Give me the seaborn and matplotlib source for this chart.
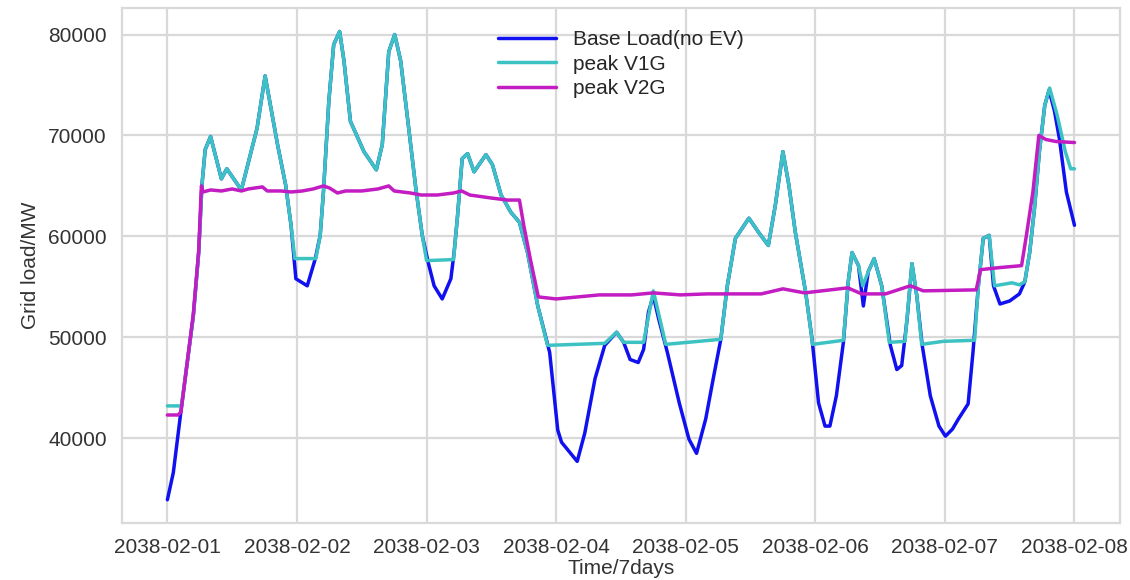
import numpy as np
import pandas as pd
import seaborn as sns
import matplotlib.pyplot as plt
import matplotlib.dates as mdates

# hours from 2038-02-01 00:00 and grid load (MW)
base_hours = [0, 1.1, 2.4, 4.8, 5.8, 6.4, 7.0, 8.0, 10.0, 11.0, 13.7, 16.6, 18.1, 20.4, 21.9, 22.9,
              23.8, 25.9, 27.4, 28.3, 28.9, 29.9, 30.8, 31.9, 32.7, 33.9, 36.4, 38.7, 39.8, 41.0,
              42.1, 43.2, 44.7, 46.0, 47.2, 48.4, 49.4, 50.9, 52.5, 53.1, 53.7, 54.6, 55.6, 56.8,
              57.7, 59.0, 60.2, 61.8, 63.6, 65.2, 66.7, 68.6, 70.8, 72.3, 73.0, 75.9, 77.3, 79.2,
              81.0, 83.2, 84.5, 85.7, 87.2, 88.2, 89.1, 90.0, 91.0, 92.6, 94.8, 96.6, 98.0, 99.7,
              101.2, 102.5, 103.7, 105.2, 107.7, 109.5, 111.3, 112.6, 114.0, 115.1, 116.3, 118.2,
              119.4, 120.6, 121.8, 122.7, 123.9, 125.2, 126.1, 126.8, 128.0, 128.9, 129.8, 130.9,
              132.3, 133.9, 135.1, 136.0, 137.0, 137.9, 138.8, 139.8, 141.3, 142.9, 144.1, 145.4,
              146.5, 148.3, 149.2, 150.2, 151.1, 152.2, 153.0, 154.2, 156.0, 157.8, 158.8, 159.7,
              160.6, 161.5, 162.5, 163.3, 164.3, 165.2, 166.5, 168.0]
base_load = [33900, 36600, 42200, 52100, 58400, 65100, 68600, 69900, 65700, 66700, 64600, 70700,
             75900, 69100, 65100, 61100, 55800, 55100, 57800, 60100, 64400, 73400, 79000, 80300,
             77400, 71400, 68400, 66600, 69100, 78300, 80000, 77400, 70700, 64800, 60100, 57200,
             55100, 53800, 55800, 58400, 61800, 67700, 68200, 66400, 67100, 68100, 67100, 64100,
             62400, 61400, 58400, 53100, 48500, 40800, 39600, 37700, 40500, 45900, 49200, 50500,
             49500, 47800, 47500, 48800, 52500, 54100, 51800, 48500, 43500, 39900, 38500, 41900,
             46200, 49800, 55100, 59800, 61800, 60400, 59100, 63100, 68400, 65100, 60400, 54500,
             49800, 43500, 41200, 41200, 44200, 49500, 55500, 58400, 57100, 53100, 56500, 57800,
             55100, 49200, 46800, 47200, 51800, 57300, 54100, 49200, 44200, 41200, 40200, 40900,
             41900, 43400, 48500, 55100, 59800, 60100, 55100, 53300, 53600, 54300, 55500, 58400,
             62800, 68400, 73000, 74500, 72400, 69700, 64400, 61100]

v1g_hours = [0, 2.6, 4.8, 5.8, 6.4, 7.0, 8.0, 10.0, 11.0, 13.7, 16.6, 18.1, 20.4, 21.9, 22.9, 23.6,
             27.5, 28.3, 28.9, 29.9, 30.8, 31.9, 32.7, 33.9, 36.4, 38.7, 39.8, 41.0, 42.1, 43.2,
             44.7, 46.0, 47.2, 48.0, 53.0, 53.7, 54.6, 55.6, 56.8, 57.7, 59.0, 60.2, 61.8, 63.6,
             65.2, 66.7, 68.6, 70.4, 81.0, 83.2, 84.5, 88.2, 90.0, 92.3, 102.5, 103.7, 105.2,
             107.7, 109.5, 111.3, 112.6, 114.0, 115.1, 116.3, 118.2, 119.5, 125.2, 126.1, 126.8,
             128.0, 128.8, 129.8, 130.9, 132.3, 133.7, 136.6, 137.9, 138.8, 139.7, 143.7, 149.5,
             150.2, 151.1, 152.2, 153.2, 156.4, 157.8, 158.8, 159.7, 160.6, 161.5, 162.5, 163.4,
             164.8, 166.3, 167.3, 168.0]
v1g_load = [43200, 43200, 52100, 58400, 65100, 68600, 69900, 65700, 66700, 64600, 70700, 75900,
            69100, 65100, 61100, 57800, 57800, 60100, 64400, 73400, 79000, 80300, 77400, 71400,
            68400, 66600, 69100, 78300, 80000, 77400, 70700, 64800, 60100, 57600, 57700, 61800,
            67700, 68200, 66400, 67100, 68100, 67100, 64100, 62400, 61400, 58400, 53100, 49200,
            49400, 50500, 49500, 49500, 54600, 49300, 49800, 55100, 59800, 61800, 60400, 59100,
            63100, 68400, 65100, 60400, 54500, 49300, 49700, 55500, 58400, 57100, 55100, 56500,
            57800, 55100, 49500, 49600, 57300, 54100, 49300, 49600, 49700, 55100, 59800, 60100,
            55100, 55400, 55200, 55500, 58400, 62800, 68400, 73000, 74700, 72000, 68400, 66700,
            66700]

v2g_hours = [0, 2.0, 2.5, 4.8, 5.8, 6.3, 6.6, 8.0, 10.0, 12.0, 13.7, 15.0, 17.6, 18.5, 21.0, 22.9,
             25.0, 27.0, 28.9, 30.0, 31.5, 33.0, 36.0, 39.0, 41.0, 42.0, 45.0, 47.0, 50.0, 53.0,
             54.5, 56.0, 60.0, 63.0, 65.2, 66.0, 67.2, 68.7, 72.0, 80.0, 86.0, 90.0, 95.0, 100.0,
             104.0, 110.0, 114.0, 118.0, 126.0, 128.6, 133.0, 137.6, 140.0, 149.8, 150.6, 154.0,
             158.2, 159.1, 160.3, 161.4, 162.7, 164.6, 168.0]
v2g_load = [42300, 42300, 42600, 52300, 58600, 65000, 64400, 64600, 64500, 64700, 64500, 64700,
            64900, 64500, 64500, 64400, 64500, 64700, 65000, 64800, 64300, 64500, 64500, 64700,
            65000, 64500, 64300, 64100, 64100, 64300, 64500, 64100, 63800, 63600, 63600, 61100,
            57800, 54000, 53800, 54200, 54200, 54400, 54200, 54300, 54300, 54300, 54800, 54400,
            54900, 54300, 54300, 55100, 54600, 54700, 56700, 56900, 57100, 60100, 64400, 70000,
            69600, 69400, 69300]

series_names = ["Base Load(no EV)", "peak V1G", "peak V2G"]
colors = ["#1010f0", "#3cc2c2", "#c21cc2"]

start = pd.Timestamp("2038-02-01")
frames = []
for name, hrs, vals in zip(series_names, [base_hours, v1g_hours, v2g_hours],
                           [base_load, v1g_load, v2g_load]):
    frames.append(pd.DataFrame({
        "time": start + pd.to_timedelta(hrs, unit="h"),
        "load": vals,
        "series": name,
    }))
df = pd.concat(frames, ignore_index=True)

sns.set_theme(style="whitegrid")
plt.rcParams["font.family"] = ["Liberation Sans", "DejaVu Sans"]
plt.rcParams["grid.color"] = "#d9d9d9"
plt.rcParams["grid.linewidth"] = 1.6

fig, ax = plt.subplots(figsize=(11.3, 5.8), dpi=100)
sns.lineplot(data=df, x="time", y="load", hue="series", hue_order=series_names,
             palette=colors, linewidth=2.5, sort=True, estimator=None, ax=ax)

ax.xaxis.set_major_locator(mdates.DayLocator())
ax.xaxis.set_major_formatter(mdates.DateFormatter("%Y-%m-%d"))
ax.set_yticks([40000, 50000, 60000, 70000, 80000])
ax.tick_params(labelsize=15, colors="#333333", pad=5)
ax.set_xlabel("Time/7days", fontsize=15, color="#333333", labelpad=1)
ax.set_ylabel("Grid load/MW", fontsize=15, color="#333333", labelpad=6)
for sp in ax.spines.values():
    sp.set_color("#d9d9d9")
    sp.set_linewidth(1.6)

ax.legend(loc="upper center", bbox_to_anchor=(0.5, 0.985), frameon=False, fontsize=15,
          handlelength=2.8, borderaxespad=0.3, labelspacing=0.25)

fig.subplots_adjust(left=0.108, right=0.991, top=0.986, bottom=0.098)
fig.savefig("out.png", dpi=100)
